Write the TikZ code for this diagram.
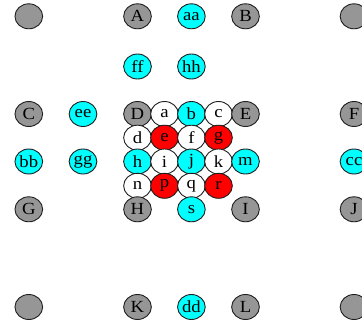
\documentclass[tikz,border=0pt]{standalone}
\usepackage{fontspec}
\setmainfont{Liberation Serif}[FakeStretch=1.1]
\usetikzlibrary{shapes.geometric}
\definecolor{ggray}{RGB}{150,150,150}
\definecolor{gcyan}{RGB}{0,255,255}
\definecolor{gred}{RGB}{255,0,0}
\definecolor{gline}{RGB}{30,30,30}
\tikzset{
  nd/.style={ellipse, draw=gline, line width=0.9pt, minimum width=27.7pt, minimum height=25pt, inner sep=0pt, font=\fontsize{17}{17}\selectfont, text=black},
  gr/.style={nd, fill=ggray},
  cy/.style={nd, fill=gcyan},
  rd/.style={nd, fill=gred},
  wh/.style={nd, fill=white}
}
\begin{document}
\begin{tikzpicture}[x=1pt,y=-1pt]
\clip (0,0) rectangle (362,324);
\useasboundingbox (0,0) rectangle (362,324);
% columns
\def\ca{28.8}\def\cb{83}\def\cc{137.5}\def\ch{164.5}\def\cd{191.4}\def\ci{218.5}\def\ce{245.5}\def\cg{354}
% row 0
\node[gr] (tl) at (\ca,16.3) {};
\node[gr] (A) at (\cc,16.3) {A};
\node[cy] (aa) at (\cd,16.3) {aa};
\node[gr] (B) at (\ce,16.3) {B};
\node[gr] (tr) at (\cg,16.3) {};
% row ff
\node[cy] (ff) at (\cc,66.5) {ff};
\node[cy] (hh) at (\cd,66.5) {hh};
% row C
\node[gr] (C) at (\ca,114) {C};
\node[cy] (ee) at (\cb,114) {ee};
\node[gr] (D) at (\cc,114) {D};
\node[wh] (a) at (\ch,114) {a};
\node[cy] (b) at (\cd,114) {b};
\node[wh] (c) at (\ci,114) {c};
\node[gr] (E) at (\ce,114) {E};
\node[gr] (F) at (\cg,114) {F};
% row d
\node[wh] (d) at (\cc,137.7) {d};
\node[rd] (e) at (\ch,137.7) {e};
\node[wh] (f) at (\cd,137.7) {f};
\node[rd] (g) at (\ci,137.7) {g};
% row h
\node[cy] (bb) at (\ca,161.5) {bb};
\node[cy] (gg) at (\cb,161.5) {gg};
\node[cy] (h) at (\cc,161.5) {h};
\node[wh] (i) at (\ch,161.5) {i};
\node[cy] (j) at (\cd,161.5) {j};
\node[wh] (k) at (\ci,161.5) {k};
\node[cy] (m) at (\ce,161.5) {m};
\node[cy] (cc) at (\cg,161.5) {cc};
% row n
\node[wh] (n) at (\cc,185.8) {n};
\node[rd] (p) at (\ch,185.8) {p};
\node[wh] (q) at (\cd,185.8) {q};
\node[rd] (r) at (\ci,185.8) {r};
% row G
\node[gr] (G) at (\ca,209.3) {G};
\node[gr] (H) at (\cc,209.3) {H};
\node[cy] (s) at (\cd,209.3) {s};
\node[gr] (I) at (\ce,209.3) {I};
\node[gr] (J) at (\cg,209.3) {J};
% bottom row
\node[gr] (bl) at (\ca,307) {};
\node[gr] (K) at (\cc,307) {K};
\node[cy] (dd) at (\cd,307) {dd};
\node[gr] (L) at (\ce,307) {L};
\node[gr] (br) at (\cg,307) {};
\end{tikzpicture}
\end{document}
